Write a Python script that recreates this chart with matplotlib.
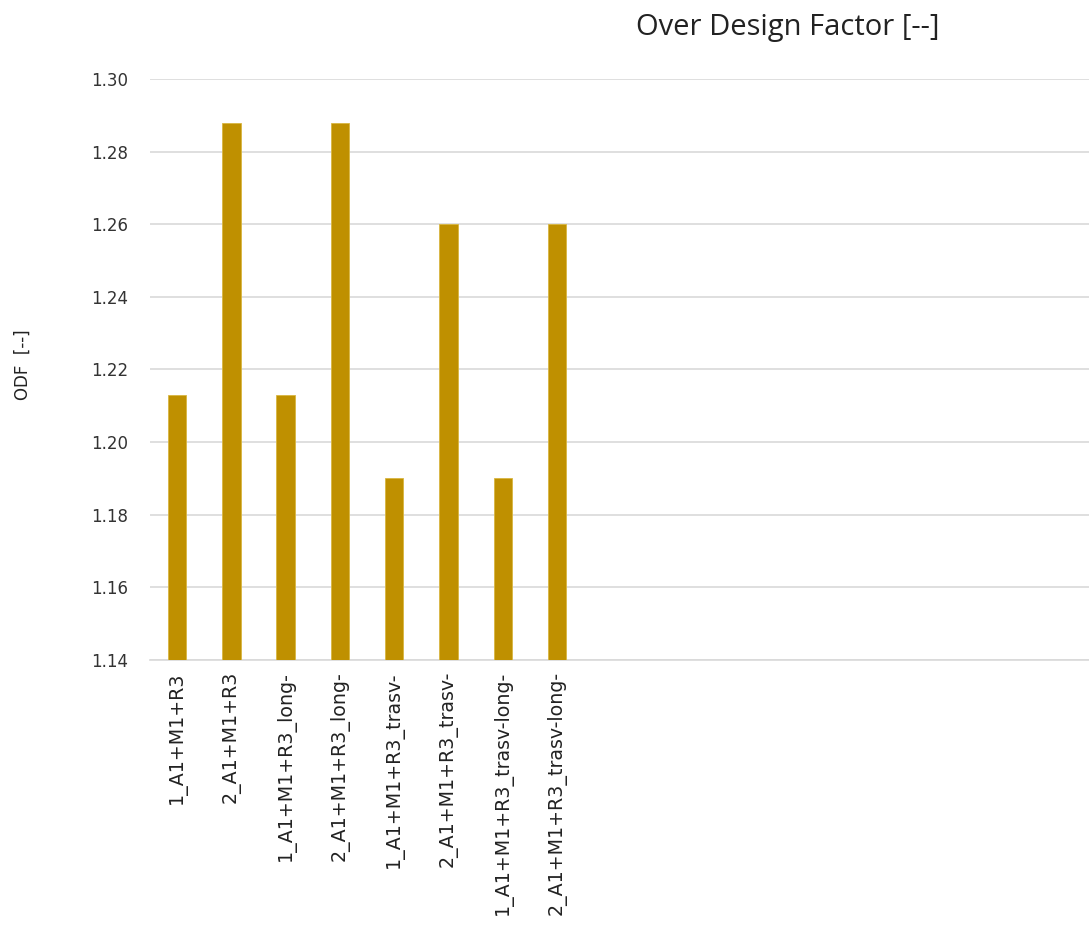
import matplotlib.pyplot as plt

plt.rcParams['font.family'] = ['DejaVu Sans']

# data
cases = ['1_A1+M1+R3', '2_A1+M1+R3',
         '1_A1+M1+R3_long-', '2_A1+M1+R3_long-',
         '1_A1+M1+R3_trasv-', '2_A1+M1+R3_trasv-',
         '1_A1+M1+R3_trasv-long-', '2_A1+M1+R3_trasv-long-']
odf = [1.213, 1.288, 1.213, 1.288, 1.190, 1.260, 1.190, 1.260]
yticks = [1.14, 1.16, 1.18, 1.20, 1.22, 1.24, 1.26, 1.28, 1.30]

fig = plt.figure(figsize=(10.89, 9.25), dpi=100)
ax = fig.add_axes([150 / 1089, 1 - 660 / 925, 1 - 150 / 1089, (660 - 79) / 925])

x = list(range(len(cases)))
ax.bar(x, odf, width=0.34, color='#BF9000', edgecolor='#D9B640', linewidth=0.6, zorder=3)

ax.set_ylim(1.14, 1.30)
ax.set_yticks(yticks)
ax.set_yticklabels([f'{v:.2f}' for v in yticks], fontsize=12, color='#333333')
ax.set_xlim(-0.5, 16.8)
ax.set_xticks(x)
ax.set_xticklabels(cases, rotation=90, fontsize=13.7, color='#222222')

ax.grid(axis='y', color='#D9D9D9', linewidth=1.2, zorder=0)
for s in ['top', 'right', 'left']:
    ax.spines[s].set_visible(False)
ax.spines['bottom'].set_color('#D9D9D9')
ax.spines['bottom'].set_linewidth(1.2)
ax.tick_params(axis='y', length=0, pad=16)
ax.tick_params(axis='x', length=0, pad=8)

ax.set_ylabel('ODF  [--]', fontsize=12, color='#222222')
ax.yaxis.set_label_coords(-118 / 939, 0.508)
fig.text(788 / 1089, 1 - 27 / 925, 'Over Design Factor [--]', fontsize=21,
         family='Open Sans', ha='center', va='center', color='#222222')

fig.savefig('out.png', dpi=100)
